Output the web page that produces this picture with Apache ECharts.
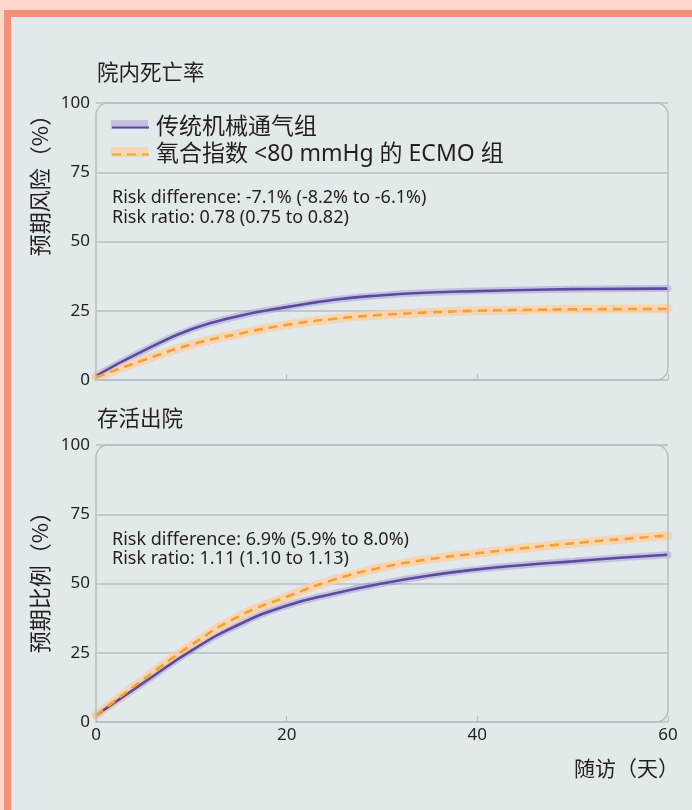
<!DOCTYPE html>
<html>
<head>
<meta charset="utf-8">
<script src="https://cdn.jsdelivr.net/npm/echarts@6/dist/echarts.min.js"></script>
<style>
  html, body { margin: 0; padding: 0; background: #fdd8ca; }
  #frame {
    position: absolute; left: 4px; top: 10px; width: 681px; height: 793px;
    border-left: 7px solid #f58f7d; border-top: 7px solid #f58f7d;
    background: #e2e9ea;
  }
  #chart { position: absolute; left: 0; top: 0; width: 692px; height: 810px; }
</style>
</head>
<body>
<div id="frame"></div>
<div id="chart"></div>
<script>
// follow-up days
const days = [0, 5, 10, 15, 20, 25, 30, 35, 40, 45, 50, 55, 60];

// in-hospital mortality (%)
const mortalityMV   = [1.5, 10.6, 18.3, 23.1, 26.3, 29.0, 30.6, 31.6, 32.1, 32.5, 32.8, 32.9, 33.0];
const mortalityECMO = [1.0, 7.2, 12.8, 16.7, 19.9, 22.1, 23.5, 24.4, 25.0, 25.3, 25.5, 25.6, 25.7];

// discharged alive (%)
const dischargeMV   = [2.4, 14.2, 25.8, 35.2, 42.0, 46.4, 50.0, 52.9, 55.1, 56.7, 58.0, 59.3, 60.4];
const dischargeECMO = [2.4, 15.4, 27.8, 38.2, 45.2, 51.4, 55.8, 58.8, 60.9, 62.8, 64.5, 66.0, 67.3];

const yTicks = [0, 25, 50, 75, 100];
const xTicks = [0, 20, 40, 60];

const nameMV = "传统机械通气组";
const nameECMO = "氧合指数 <80 mmHg 的 ECMO 组";

const FONT = '"Noto Sans", "Noto Sans CJK SC", sans-serif';
const CJK = '"Noto Sans CJK SC", "Noto Sans", sans-serif';
const TEXT = "#231f20";
const PURPLE = "#5a4b9f";
const PURPLE_BAND = "rgba(140,120,205,0.35)";
const ORANGE = "#f5a030";
const ORANGE_BAND = "rgba(253,205,160,0.75)";
const GRID_LINE = "#b9bdc1";

const GL = 96, GW = 572, GH = 277;
const tops = [103, 445];

const pairs = (ys) => days.map((d, i) => [d, ys[i]]);

const chart = echarts.init(document.getElementById("chart"));

function xAxisFor(idx, showLabels) {
    return {
        type: "value", gridIndex: idx, min: 0, max: 60, interval: 20,
        axisLine: { show: false },
        axisTick: { show: true, inside: true, length: 6, lineStyle: { color: GRID_LINE, width: 1.2 } },
        splitLine: { show: false },
        axisLabel: {
            show: showLabels, color: TEXT, fontSize: 17, fontFamily: FONT, margin: 5,
            formatter: (v) => xTicks.includes(v) ? String(v) : ""
        }
    };
}

function yAxisFor(idx) {
    return {
        type: "value", gridIndex: idx, min: 0, max: 100, interval: 25,
        axisLine: { show: false },
        axisTick: { show: false },
        splitLine: { show: true, lineStyle: { color: GRID_LINE, width: 1.5 } },
        axisLabel: {
            color: TEXT, fontSize: 17, fontFamily: FONT, margin: 6,
            formatter: (v) => yTicks.includes(v) ? String(v) : ""
        }
    };
}

function band(name, idx, ys, color, width) {
    return {
        name: name + "_band", type: "line", xAxisIndex: idx, yAxisIndex: idx,
        data: pairs(ys), smooth: 0.5, symbol: "none", silent: true, z: 2,
        lineStyle: { color: color, width: width, cap: "round" }
    };
}

function mainLine(name, idx, ys, color, dashed) {
    return {
        name: name, type: "line", xAxisIndex: idx, yAxisIndex: idx,
        data: pairs(ys), smooth: 0.5, symbol: "none", z: 3,
        itemStyle: { color: color },
        lineStyle: dashed
            ? { color: color, width: 2.6, type: [9, 6] }
            : { color: color, width: 2.6 }
    };
}

const box = (top) => ({
    type: "rect", z: 10, silent: true,
    shape: { x: GL, y: top, width: GW, height: GH, r: [12, 12, 12, 0] },
    style: { fill: null, stroke: GRID_LINE, lineWidth: 1.5 }
});

const txt = (x, y, s, size, font, align, rot) => ({
    type: "text", x: x, y: y, silent: true, rotation: rot || 0,
    style: {
        text: s, fill: TEXT, font: size + "px " + font,
        textAlign: align || "left", textVerticalAlign: "middle"
    }
});

chart.setOption({
    animation: false,
    grid: [
        { left: GL, top: tops[0], width: GW, height: GH },
        { left: GL, top: tops[1], width: GW, height: GH }
    ],
    xAxis: [xAxisFor(0, false), xAxisFor(1, true)],
    yAxis: [yAxisFor(0), yAxisFor(1)],
    legend: {
        orient: "vertical", left: 106, top: 111, itemGap: 4,
        itemWidth: 37, itemHeight: 10, z: 6,
        data: [nameMV, nameECMO],
        itemStyle: { opacity: 0 },
        textStyle: { color: TEXT, fontSize: 23, fontFamily: FONT, padding: [0, 0, 0, 2] }
    },
    series: [
        band(nameMV, 0, mortalityMV, PURPLE_BAND, 7),
        band(nameECMO, 0, mortalityECMO, ORANGE_BAND, 9),
        mainLine(nameMV, 0, mortalityMV, PURPLE, false),
        mainLine(nameECMO, 0, mortalityECMO, ORANGE, true),
        band(nameMV, 1, dischargeMV, PURPLE_BAND, 7),
        band(nameECMO, 1, dischargeECMO, ORANGE_BAND, 9),
        mainLine(nameMV, 1, dischargeMV, PURPLE, false),
        mainLine(nameECMO, 1, dischargeECMO, ORANGE, true)
    ],
    graphic: [
        box(tops[0]),
        box(tops[1]),
        // legend bands behind the legend icons
        { type: "rect", z: 1, silent: true, shape: { x: 111, y: 120, width: 37, height: 9 }, style: { fill: PURPLE_BAND } },
        { type: "rect", z: 1, silent: true, shape: { x: 111, y: 147, width: 37, height: 10 }, style: { fill: ORANGE_BAND } },
        txt(97, 72, "院内死亡率", 21.5, CJK),
        txt(97, 418, "存活出院", 21.5, CJK),
        txt(112, 198, "Risk difference: -7.1% (-8.2% to -6.1%)", 18, FONT),
        txt(112, 218, "Risk ratio: 0.78 (0.75 to 0.82)", 18, FONT),
        txt(112, 540, "Risk difference: 6.9% (5.9% to 8.0%)", 18, FONT),
        txt(112, 559, "Risk ratio: 1.11 (1.10 to 1.13)", 18, FONT),
        txt(40, 180, "预期风险（%）", 22, CJK, "center", Math.PI / 2),
        txt(40, 577, "预期比例（%）", 22, CJK, "center", Math.PI / 2),
        txt(679, 768, "随访（天）", 21, CJK, "right")
    ]
});
</script>
</body>
</html>
